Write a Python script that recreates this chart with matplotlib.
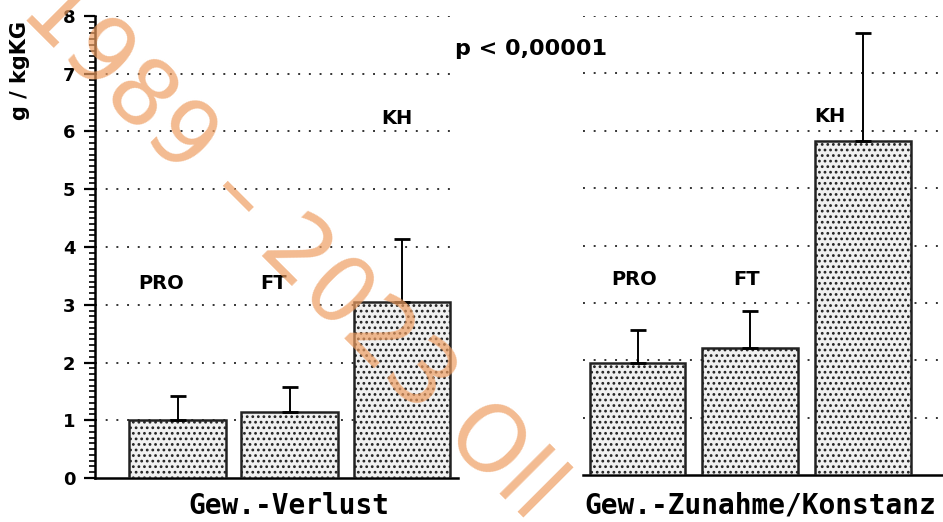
import matplotlib
matplotlib.use("Agg")
import matplotlib.pyplot as plt
from matplotlib.ticker import MultipleLocator

# data (g / kgKG)
groups = ["PRO", "FT", "KH"]
verlust_mean = [1.00, 1.15, 3.05]
verlust_sd = [0.42, 0.43, 1.08]
zunahme_mean = [1.96, 2.21, 5.83]
zunahme_sd = [0.56, 0.65, 1.87]
yticks = [0, 1, 2, 3, 4, 5, 6, 7, 8]
p_text = "p < 0,00001"
ylabel = "g / kgKG"
xlabel_left = "Gew.-Verlust"
xlabel_right = "Gew.-Zunahme/Konstanz"

W, H = 943, 522
fig = plt.figure(figsize=(W / 100, H / 100), dpi=100)
plt.rcParams['hatch.linewidth'] = 1.2

def px(x0, y0, x1, y1):
    # pixel box (top-left origin) -> figure fraction rect
    return [x0 / W, 1 - y1 / H, (x1 - x0) / W, (y1 - y0) / H]

ax1 = fig.add_axes(px(95, 16, 458, 478))
ax2 = fig.add_axes(px(583, 16, 1000, 475))

xs = [1, 2, 3]
bold = dict(family="DejaVu Sans", weight="bold")
mono = dict(family="DejaVu Sans Mono", weight="bold")

def panel(ax, means, sds, width, xlim, lbl_off, lbl_y):
    ax.set_ylim(0, 8)
    ax.set_xlim(*xlim)
    for y in yticks[1:]:
        ax.axhline(y, color="#333333", lw=1.4, ls=(0, (1, 4.5)), zorder=1)
    ax.bar(xs, means, width=width, color="#f0f0f0", edgecolor="#222222",
           hatch="...", linewidth=1.8, zorder=3)
    ax.errorbar(xs, means, yerr=[[0] * 3, sds], fmt="none", ecolor="black",
                elinewidth=1.4, capsize=6, capthick=2, zorder=4)
    for i, g in enumerate(groups):
        ax.text(xs[i] + lbl_off[i], lbl_y[i], g, ha="center", va="center",
                fontsize=14, **bold)
    for s in ["top", "right"]:
        ax.spines[s].set_visible(False)
    ax.spines["bottom"].set_linewidth(1.8)
    ax.set_xticks([])
    ax.patch.set_alpha(0)

panel(ax1, verlust_mean, verlust_sd, 0.866, (0.259, 3.5),
      [-0.15, -0.15, -0.05], [3.36, 3.36, 6.23])
panel(ax2, zunahme_mean, zunahme_sd, 0.85, (0.516, 4.216),
      [-0.03, -0.03, -0.29], [3.41, 3.41, 6.24])

ax1.spines["left"].set_linewidth(1.8)
ax1.set_yticks(yticks)
ax1.set_yticklabels([str(t) for t in yticks], **bold, fontsize=13)
ax1.yaxis.set_minor_locator(MultipleLocator(0.1))
ax1.tick_params(axis="y", which="major", length=8, width=1.6, pad=6)
ax1.tick_params(axis="y", which="minor", length=4, width=1.2)
ax2.spines["left"].set_visible(False)
ax2.set_yticks([])

fig.text(531 / W, 1 - 49 / H, p_text, ha="center", va="center",
         fontsize=16, **bold)
fig.text(20 / W, 1 - 70 / H, ylabel, rotation=90, ha="center", va="center",
         fontsize=15, **bold)
fig.text(289 / W, 1 - 506 / H, xlabel_left, ha="center", va="center",
         fontsize=20, **mono)
fig.text(760 / W, 1 - 505 / H, xlabel_right, ha="center", va="center",
         fontsize=20, **mono)

# orange watermark across the scan
fig.text(36 / W, 1 + 6 / H, "1989 \u2013 2023 Oll", rotation=-45,
         rotation_mode="anchor", ha="left", va="center", fontsize=66,
         family="DejaVu Sans", color="#ee9e62", alpha=0.7, zorder=10)

plt.savefig("out.png", dpi=100)
